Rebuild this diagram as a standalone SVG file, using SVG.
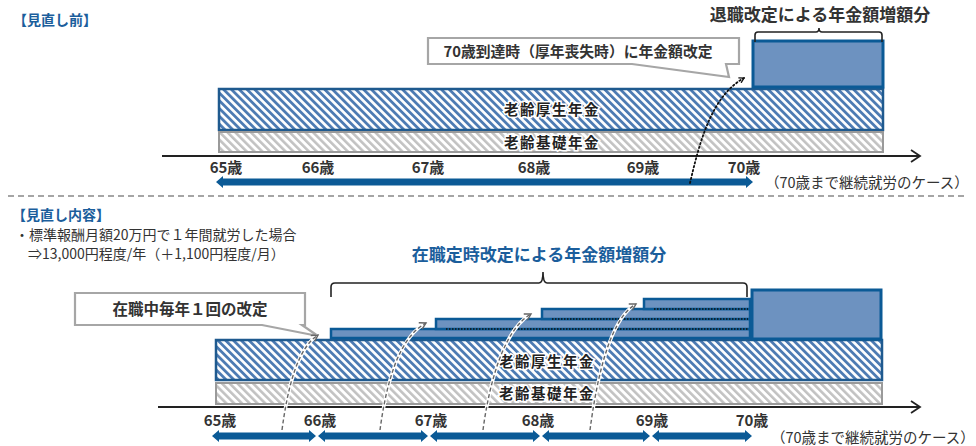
<svg xmlns="http://www.w3.org/2000/svg" width="976" height="446" viewBox="0 0 976 446">
<defs>
<style>
text{font-family:"Noto Sans CJK JP","Noto Sans",sans-serif}
.hd{font-size:14px;font-weight:bold;fill:#1b5e9c}
.lbl{font-size:14px;font-weight:bold;fill:#333}
.age{font-size:15px;font-weight:bold;fill:#333;text-anchor:middle}
.bar{font-size:14.5px;font-weight:bold;fill:#222;text-anchor:middle;stroke:#fff;stroke-width:3;paint-order:stroke;letter-spacing:1.5px}
.note{font-size:14px;fill:#333}
.case{font-size:14.5px;fill:#333}
.kosei{fill:url(#hb);stroke:#1f5a8f;stroke-width:2.5}
.kiso{fill:url(#hg);stroke:#9a9a9a;stroke-width:2}
.inc{fill:#6d92c0;stroke:#0b5a96;stroke-width:2.5}
.arr{fill:#0b5a96}
.call{fill:#fff;stroke:#a6a6a6;stroke-width:2.2;stroke-linejoin:miter}
.brk{fill:none;stroke:#222;stroke-width:1.6}
.dot{fill:none;stroke:#111;stroke-width:1.8;stroke-dasharray:1.5 2.5;stroke-linecap:round}
.dsh{fill:none;stroke:#666;stroke-width:1.4;stroke-dasharray:4 2.5}
.dshw{fill:none;stroke:#fff;stroke-width:3.5}
.sep{stroke:#888;stroke-width:1.3;stroke-dasharray:6 4}
.axis{stroke:#222;stroke-width:1.8;fill:none}
.ldot{stroke:#111;stroke-width:1.6;stroke-dasharray:1.5 1.5}
</style>
<pattern id="hb" width="5.5" height="5.5" patternUnits="userSpaceOnUse" patternTransform="rotate(-45)">
<rect width="5.5" height="5.5" fill="#fff"/><rect width="2.8" height="5.5" fill="#4d7bb3"/>
</pattern>
<pattern id="hg" width="5.5" height="5.5" patternUnits="userSpaceOnUse" patternTransform="rotate(-45)">
<rect width="5.5" height="5.5" fill="#fff"/><rect width="2.6" height="5.5" fill="#c2c2c2"/>
</pattern>
<marker id="mk" viewBox="0 0 10 10" refX="8" refY="5" markerWidth="7" markerHeight="7" orient="auto" markerUnits="userSpaceOnUse">
<path d="M1,1 L8,5 L1,9" fill="none" stroke="#111" stroke-width="1.8"/>
</marker>
<marker id="mg" viewBox="0 0 10 10" refX="8" refY="5" markerWidth="9" markerHeight="9" orient="auto" markerUnits="userSpaceOnUse">
<path d="M1,1 L8,5 L1,9" fill="none" stroke="#666" stroke-width="1.6"/>
</marker>
</defs>
<rect width="976" height="446" fill="#fff"/>

<!-- ===== Top section ===== -->
<g id="title-before"><text class="hd" x="13" y="25">【見直し前】</text></g>

<g id="top-kosei">
<rect class="kosei" x="219" y="89" width="664" height="41"/>
<text class="bar" x="552" y="115">老齢厚生年金</text>
</g>
<g id="top-kiso">
<rect class="kiso" x="219" y="132" width="664" height="20"/>
<text class="bar" x="552" y="148">老齢基礎年金</text>
</g>
<g id="top-increase">
<rect class="inc" x="753" y="41" width="130" height="46" style="stroke-width:3"/>
</g>
<g id="top-bracket">
<path class="brk" d="M755,42 V35 Q755,32 758,32 H816 Q819,32 819,28 Q819,32 822,32 H879 Q882,32 882,35 V42"/>
<text class="lbl" x="820" y="21" text-anchor="middle" style="font-size:17px">退職改定による年金額増額分</text>
</g>
<g id="top-callout">
<path class="call" d="M428,38 H739 V64 H726 L729,77 L632,64 H428 Z"/>
<text class="lbl" x="578" y="57" text-anchor="middle" style="font-size:14.8px">70歳到達時（厚年喪失時）に年金額改定</text>
</g>
<g id="top-axis">
<line class="axis" x1="162" y1="156" x2="920" y2="156"/>
<path class="axis" d="M911,150 L920,156 L911,162"/>
<text class="age" x="226" y="173">65歳</text>
<text class="age" x="318" y="173">66歳</text>
<text class="age" x="428" y="173">67歳</text>
<text class="age" x="534" y="173">68歳</text>
<text class="age" x="643" y="173">69歳</text>
<text class="age" x="744" y="173">70歳</text>
</g>
<g id="top-span">
<path class="arr" d="M216,182 L223,176 L223,178.5 L746,178.5 L746,176 L753,182 L746,188 L746,185.5 L223,185.5 L223,188 Z"/>
<text class="case" x="765" y="188">（70歳まで継続就労のケース）</text>
</g>
<g id="connectors-top">
<path class="dot" d="M690,183 C700,140 712,96 744,78" marker-end="url(#mk)"/>
</g>

<line class="sep" x1="8" y1="196" x2="968" y2="196"/>

<!-- ===== Bottom section ===== -->
<g id="title-after">
<text class="hd" x="12" y="220">【見直し内容】</text>
<text class="note" x="15" y="240">・標準報酬月額20万円で１年間就労した場合</text>
<text class="note" x="28" y="259">⇒13,000円程度/年（＋1,100円程度/月）</text>
</g>

<g id="bottom-heading">
<text x="539" y="261" text-anchor="middle" style="font-size:17px;font-weight:bold;fill:#1b5e9c">在職定時改定による年金額増額分</text>
<path class="brk" d="M331,297 V287 Q331,283 335,283 H539 Q543,283 543,272 Q543,283 547,283 H743 Q747,283 747,287 V297"/>
</g>

<g id="bottom-callout">
<path class="call" d="M75,293 H305 V325 H302 L318,336 L262,325 H75 Z"/>
<text class="lbl" x="190" y="315" text-anchor="middle" style="font-size:15.5px">在職中毎年１回の改定</text>
</g>

<g id="bottom-kosei">
<rect class="kosei" x="216" y="340" width="666" height="40"/>
<text class="bar" x="547" y="367">老齢厚生年金</text>
</g>
<g id="bottom-kiso">
<rect class="kiso" x="216" y="383" width="666" height="21"/>
<text class="bar" x="547" y="399">老齢基礎年金</text>
</g>

<g id="bottom-steps">
<rect class="inc" x="331" y="329" width="419" height="9"/>
<rect class="inc" x="436" y="319" width="314" height="10"/>
<rect class="inc" x="542" y="309" width="208" height="10"/>
<rect class="inc" x="644" y="299" width="106" height="10"/>
<line class="ldot" x1="446" y1="329" x2="748" y2="329"/>
<line class="ldot" x1="552" y1="319" x2="748" y2="319"/>
<line class="ldot" x1="654" y1="309" x2="748" y2="309"/>
</g>
<g id="bottom-increase">
<rect class="inc" x="752" y="290" width="129" height="49" style="stroke-width:3"/>
</g>

<g id="bottom-axis">
<line class="axis" x1="158" y1="407" x2="920" y2="407"/>
<path class="axis" d="M911,401 L920,407 L911,413"/>
<text class="age" x="220" y="426">65歳</text>
<text class="age" x="320" y="426">66歳</text>
<text class="age" x="431" y="426">67歳</text>
<text class="age" x="538" y="426">68歳</text>
<text class="age" x="652" y="426">69歳</text>
<text class="age" x="752" y="426">70歳</text>
</g>
<g id="bottom-spans">
<path class="arr" d="M212,436 L219,430 L219,432.5 L309,432.5 L309,430 L316,436 L309,442 L309,439.5 L219,439.5 L219,442 Z"/>
<path class="arr" d="M318,436 L325,430 L325,432.5 L421,432.5 L421,430 L428,436 L421,442 L421,439.5 L325,439.5 L325,442 Z"/>
<path class="arr" d="M430,436 L437,430 L437,432.5 L533,432.5 L533,430 L540,436 L533,442 L533,439.5 L437,439.5 L437,442 Z"/>
<path class="arr" d="M542,436 L549,430 L549,432.5 L643,432.5 L643,430 L650,436 L643,442 L643,439.5 L549,439.5 L549,442 Z"/>
<path class="arr" d="M652,436 L659,430 L659,432.5 L745,432.5 L745,430 L752,436 L745,442 L745,439.5 L659,439.5 L659,442 Z"/>
<text class="case" x="771" y="443">（70歳まで継続就労のケース）</text>
</g>

<g id="connectors-bottom">
<path class="dshw" d="M282,430 C288,385 298,348 318,335"/>
<path class="dsh" d="M282,430 C288,385 298,348 318,335" marker-end="url(#mg)"/>
<path class="dshw" d="M380,430 C386,385 398,338 426,323"/>
<path class="dsh" d="M380,430 C386,385 398,338 426,323" marker-end="url(#mg)"/>
<path class="dshw" d="M483,430 C489,385 503,330 531,314"/>
<path class="dsh" d="M483,430 C489,385 503,330 531,314" marker-end="url(#mg)"/>
<path class="dshw" d="M590,430 C596,385 608,320 636,304"/>
<path class="dsh" d="M590,430 C596,385 608,320 636,304" marker-end="url(#mg)"/>
</g>
</svg>
